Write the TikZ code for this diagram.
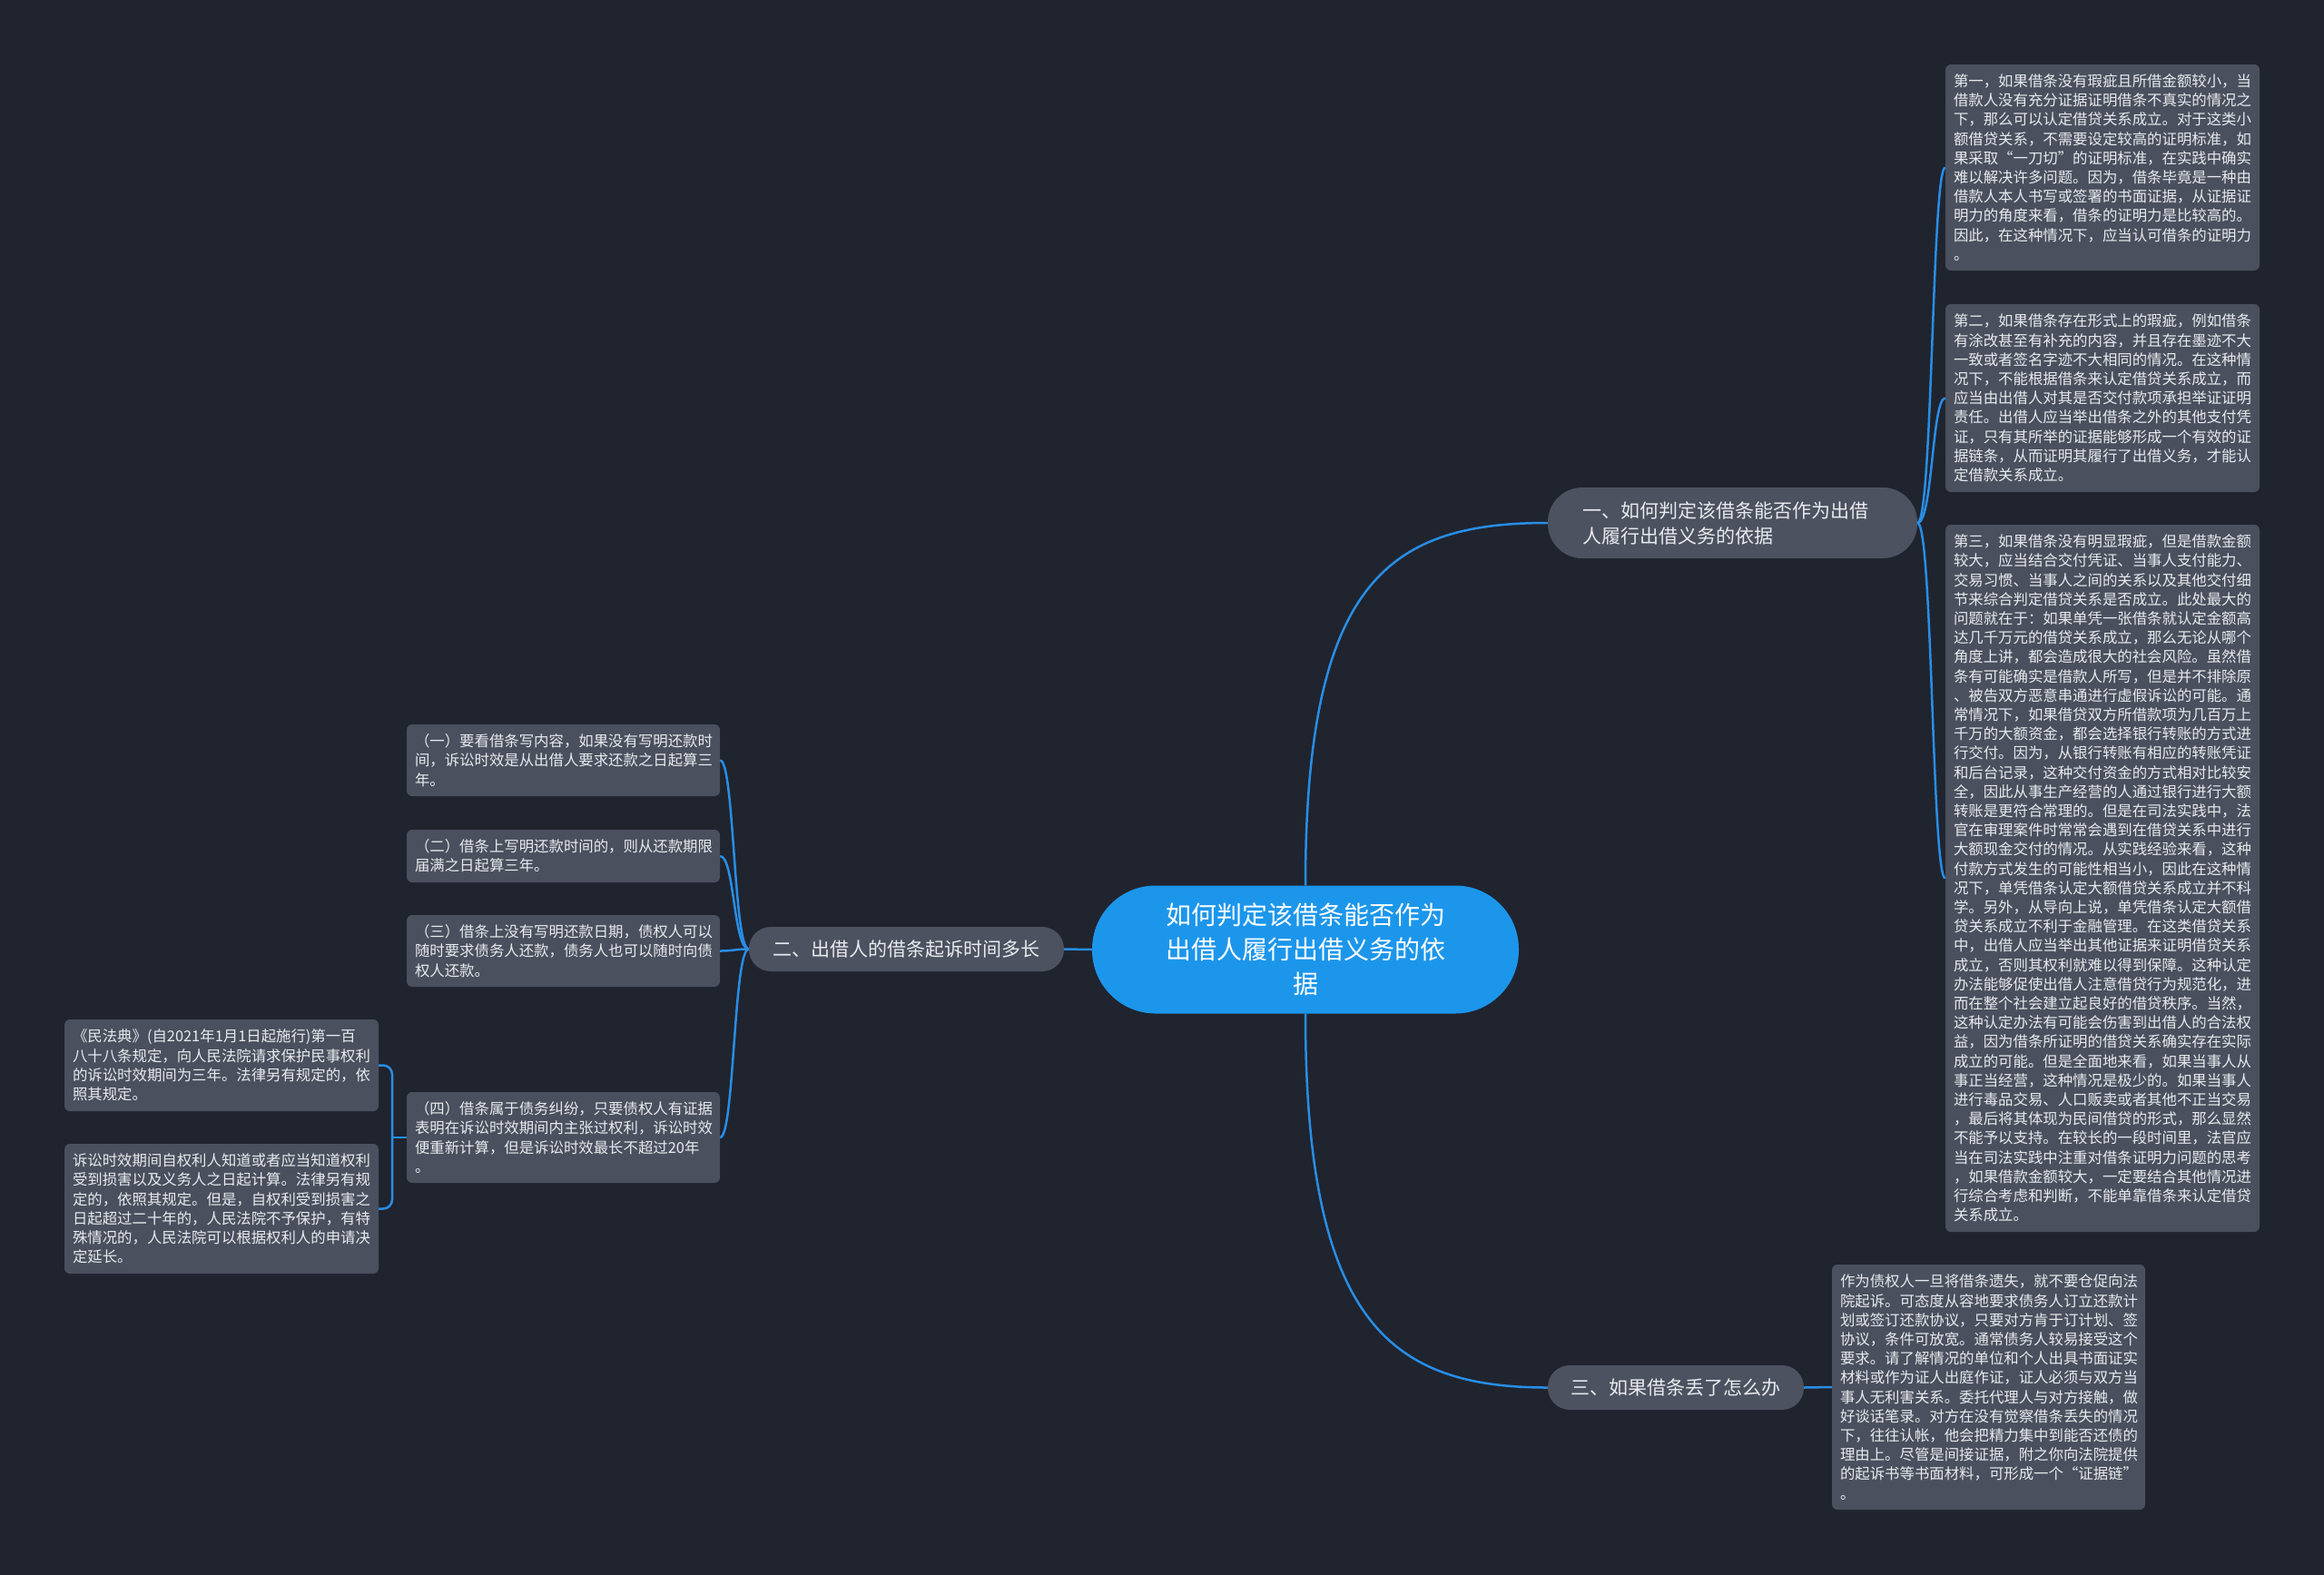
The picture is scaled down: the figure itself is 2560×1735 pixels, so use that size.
\documentclass[tikz,border=0pt]{standalone}
\usepackage{fontspec}
\setmainfont{Noto Sans CJK SC}
\definecolor{bgc}{RGB}{32,36,47}
\definecolor{boxc}{RGB}{74,80,94}
\definecolor{brc}{RGB}{76,82,96}
\definecolor{cenc}{RGB}{28,150,235}
\definecolor{linec}{RGB}{40,142,230}
\definecolor{txt}{RGB}{232,234,238}
\tikzset{
  leaf/.style={fill=boxc, rounded corners=6pt, text=txt, align=left, inner xsep=9pt, inner ysep=0pt,
    font=\fontsize{16.4}{21.2}\selectfont, anchor=center, minimum width=346pt},
  branch/.style={fill=brc, text=txt, align=left, inner xsep=0pt, inner ysep=0pt,
    font=\fontsize{21}{28}\selectfont, anchor=center},
  conn/.style={draw=linec, line width=2.5pt},
}
\begin{document}
\begin{tikzpicture}[x=1pt,y=-1pt]
\fill[bgc] (0,0) rectangle (2560,1735);
\useasboundingbox (0,0) rectangle (2560,1735);

% center
\node[fill=cenc, text=white, align=center, rounded corners=70pt, minimum width=470pt, minimum height=141pt,
  inner sep=0pt, font=\fontsize{28}{38}\selectfont] (c) at (1438,1046)
  {如何判定该借条能否作为\\出借人履行出借义务的依\\据};

% branches
\node[branch, rounded corners=38pt, minimum width=407pt, minimum height=78pt, text width=331pt] (b1) at (1908.5,576)
  {一、如何判定该借条能否作为出借\\人履行出借义务的依据};
\node[branch, rounded corners=24pt, minimum width=347pt, minimum height=49pt] (b2) at (998.5,1045.5)
  {二、出借人的借条起诉时间多长};
\node[branch, rounded corners=24pt, minimum width=282pt, minimum height=49pt] (b3) at (1846,1528.5)
  {三、如果借条丢了怎么办};

% right leaves
\node[leaf, text width=328pt, minimum height=227pt] (r1) at (2316,184.5)
  {第一，如果借条没有瑕疵且所借金额较小，当\\借款人没有充分证据证明借条不真实的情况之\\下，那么可以认定借贷关系成立。对于这类小\\额借贷关系，不需要设定较高的证明标准，如\\果采取“一刀切”的证明标准，在实践中确实\\难以解决许多问题。因为，借条毕竟是一种由\\借款人本人书写或签署的书面证据，从证据证\\明力的角度来看，借条的证明力是比较高的。\\因此，在这种情况下，应当认可借条的证明力\\。};
\node[leaf, text width=328pt, minimum height=207pt] (r2) at (2316,438.5)
  {第二，如果借条存在形式上的瑕疵，例如借条\\有涂改甚至有补充的内容，并且存在墨迹不大\\一致或者签名字迹不大相同的情况。在这种情\\况下，不能根据借条来认定借贷关系成立，而\\应当由出借人对其是否交付款项承担举证证明\\责任。出借人应当举出借条之外的其他支付凭\\证，只有其所举的证据能够形成一个有效的证\\据链条，从而证明其履行了出借义务，才能认\\定借款关系成立。};
\node[leaf, text width=328pt, minimum height=779pt] (r3) at (2316,967.5)
  {第三，如果借条没有明显瑕疵，但是借款金额\\较大，应当结合交付凭证、当事人支付能力、\\交易习惯、当事人之间的关系以及其他交付细\\节来综合判定借贷关系是否成立。此处最大的\\问题就在于：如果单凭一张借条就认定金额高\\达几千万元的借贷关系成立，那么无论从哪个\\角度上讲，都会造成很大的社会风险。虽然借\\条有可能确实是借款人所写，但是并不排除原\\、被告双方恶意串通进行虚假诉讼的可能。通\\常情况下，如果借贷双方所借款项为几百万上\\千万的大额资金，都会选择银行转账的方式进\\行交付。因为，从银行转账有相应的转账凭证\\和后台记录，这种交付资金的方式相对比较安\\全，因此从事生产经营的人通过银行进行大额\\转账是更符合常理的。但是在司法实践中，法\\官在审理案件时常常会遇到在借贷关系中进行\\大额现金交付的情况。从实践经验来看，这种\\付款方式发生的可能性相当小，因此在这种情\\况下，单凭借条认定大额借贷关系成立并不科\\学。另外，从导向上说，单凭借条认定大额借\\贷关系成立不利于金融管理。在这类借贷关系\\中，出借人应当举出其他证据来证明借贷关系\\成立，否则其权利就难以得到保障。这种认定\\办法能够促使出借人注意借贷行为规范化，进\\而在整个社会建立起良好的借贷秩序。当然，\\这种认定办法有可能会伤害到出借人的合法权\\益，因为借条所证明的借贷关系确实存在实际\\成立的可能。但是全面地来看，如果当事人从\\事正当经营，这种情况是极少的。如果当事人\\进行毒品交易、人口贩卖或者其他不正当交易\\，最后将其体现为民间借贷的形式，那么显然\\不能予以支持。在较长的一段时间里，法官应\\当在司法实践中注重对借条证明力问题的思考\\，如果借款金额较大，一定要结合其他情况进\\行综合考虑和判断，不能单靠借条来认定借贷\\关系成立。};
\node[leaf, text width=327pt, minimum width=345pt, minimum height=270pt] (rb) at (2190.5,1528)
  {作为债权人一旦将借条遗失，就不要仓促向法\\院起诉。可态度从容地要求债务人订立还款计\\划或签订还款协议，只要对方肯于订计划、签\\协议，条件可放宽。通常债务人较易接受这个\\要求。请了解情况的单位和个人出具书面证实\\材料或作为证人出庭作证，证人必须与双方当\\事人无利害关系。委托代理人与对方接触，做\\好谈话笔录。对方在没有觉察借条丢失的情况\\下，往往认帐，他会把精力集中到能否还债的\\理由上。尽管是间接证据，附之你向法院提供\\的起诉书等书面材料，可形成一个“证据链”\\。};

% left leaves
\node[leaf, text width=327pt, minimum width=345pt, minimum height=79pt] (la) at (620.5,837.5)
  {（一）要看借条写内容，如果没有写明还款时\\间，诉讼时效是从出借人要求还款之日起算三\\年。};
\node[leaf, text width=327pt, minimum width=345pt, minimum height=58pt] (lb) at (620.5,943)
  {（二）借条上写明还款时间的，则从还款期限\\届满之日起算三年。};
\node[leaf, text width=327pt, minimum width=345pt, minimum height=79pt] (lc) at (620.5,1047.5)
  {（三）借条上没有写明还款日期，债权人可以\\随时要求债务人还款，债务人也可以随时向债\\权人还款。};
\node[leaf, text width=327pt, minimum width=345pt, minimum height=100pt] (ld) at (620.5,1253)
  {（四）借条属于债务纠纷，只要债权人有证据\\表明在诉讼时效期间内主张过权利，诉讼时效\\便重新计算，但是诉讼时效最长不超过20年\\。};
\node[leaf, text width=328pt, minimum height=101pt] (le) at (244,1173.5)
  {《民法典》(自2021年1月1日起施行)第一百\\八十八条规定，向人民法院请求保护民事权利\\的诉讼时效期间为三年。法律另有规定的，依\\照其规定。};
\node[leaf, text width=328pt, minimum height=143pt] (lf) at (244,1331.5)
  {诉讼时效期间自权利人知道或者应当知道权利\\受到损害以及义务人之日起计算。法律另有规\\定的，依照其规定。但是，自权利受到损害之\\日起超过二十年的，人民法院不予保护，有特\\殊情况的，人民法院可以根据权利人的申请决\\定延长。};

% connectors: center to branches
\draw[conn] (c.north) .. controls (1438,640) and (1530,576) .. (b1.west);
\draw[conn] (c.south) .. controls (1438,1455) and (1530,1528.5) .. (b3.west);
\draw[conn] (c.west) -- (b2.east);

% branch 1 to leaves
\draw[conn] (b1.east) .. controls (2129,576) and (2128,184.5) .. (r1.west);
\draw[conn] (b1.east) .. controls (2129,576) and (2128,438.5) .. (r2.west);
\draw[conn] (b1.east) .. controls (2129,576) and (2128,967.5) .. (r3.west);

% branch 3 to leaf
\draw[conn] (b3.east) -- (rb.west);

% branch 2 to leaves
\draw[conn] (b2.west) .. controls (808,1045.5) and (809,837.5) .. (la.east);
\draw[conn] (b2.west) .. controls (808,1045.5) and (809,943) .. (lb.east);
\draw[conn] (b2.west) .. controls (808,1045.5) and (809,1047.5) .. (lc.east);
\draw[conn] (b2.west) .. controls (808,1045.5) and (809,1253) .. (ld.east);

% (四) to its two children
\coordinate (j) at (432,1253);
\draw[conn] (ld.west) -- (j);
\draw[conn, rounded corners=10pt] (le.east) -| (j) |- (lf.east);
\end{tikzpicture}
\end{document}
